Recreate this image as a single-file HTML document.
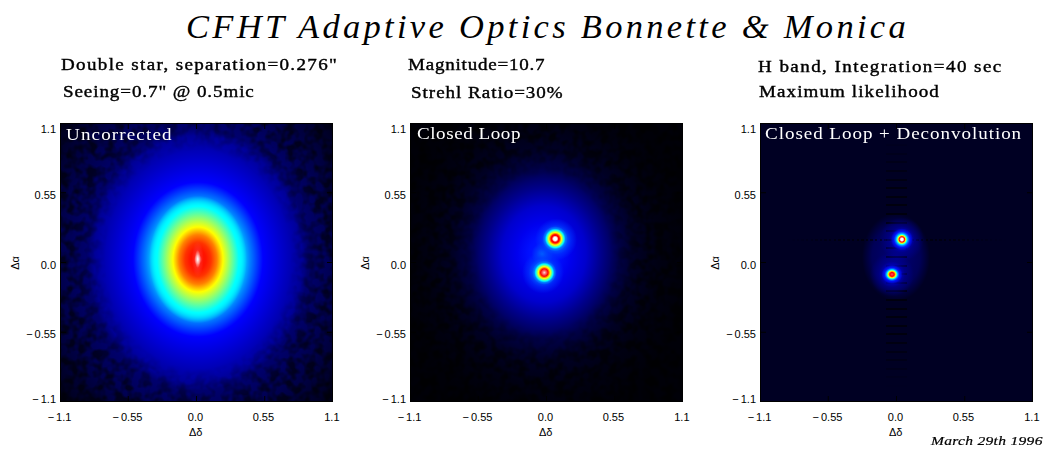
<!DOCTYPE html>
<html><head><meta charset="utf-8">
<style>
html,body{margin:0;padding:0;background:#fff;}
body{width:1050px;height:450px;position:relative;overflow:hidden;font-family:"Liberation Serif",serif;color:#000;}
.a{position:absolute;white-space:nowrap;line-height:1;}
#title{left:186px;top:8.5px;font-style:italic;font-size:34.5px;letter-spacing:3.3px;}
.sub{font-family:"Liberation Serif",serif;font-size:17px;transform:scaleX(1.12);transform-origin:0 0;-webkit-text-stroke:0.4px #000;}
.panel{position:absolute;top:123px;width:273px;height:279px;overflow:hidden;}
.bd{position:absolute;left:0;top:0;width:271px;height:277px;border:1px solid #000;}
.lbl{position:absolute;left:7px;top:3px;color:#fff;font-family:"Liberation Serif",serif;font-size:17px;white-space:nowrap;line-height:1;transform:scaleX(1.12);transform-origin:0 0;}
.tk{position:absolute;left:0;top:0;}
.art{position:absolute;}
.ay{position:absolute;font-family:"Liberation Sans",sans-serif;font-size:11px;line-height:11px;white-space:nowrap;text-align:right;}
.ax{position:absolute;width:100px;text-align:center;font-family:"Liberation Sans",sans-serif;font-size:11px;line-height:11px;white-space:nowrap;}
.ya{position:absolute;font-family:"Liberation Sans",sans-serif;font-size:11px;line-height:11px;white-space:nowrap;transform:translate(-50%,-50%) rotate(-90deg);}
#date{left:931px;top:433.5px;font-style:italic;font-size:13.5px;letter-spacing:0.26px;transform:scaleX(1.15);transform-origin:0 0;-webkit-text-stroke:0.2px #000;}
</style></head>
<body>
<div class="a" id="title">CFHT Adaptive Optics Bonnette &amp; Monica</div>

<div class="a sub" style="left:61px;top:55.9px;letter-spacing:1.207px;">Double star, separation=0.276"</div>
<div class="a sub" style="left:62.6px;top:82.8px;letter-spacing:0.811px;">Seeing=0.7" @ 0.5mic</div>
<div class="a sub" style="left:408px;top:55.6px;letter-spacing:0.692px;">Magnitude=10.7</div>
<div class="a sub" style="left:410.6px;top:83.5px;letter-spacing:0.867px;">Strehl Ratio=30%</div>
<div class="a sub" style="left:758px;top:57.7px;letter-spacing:1.28px;">H band, Integration=40 sec</div>
<div class="a sub" style="left:759px;top:83.3px;letter-spacing:0.976px;">Maximum likelihood</div>

<!-- panel 1 -->
<div class="panel" style="left:60px;background:
radial-gradient(ellipse 2px 6px at 137.7px 136px, #ffffff 0px,rgba(255,200,200,.85) 1.2px,rgba(255,90,90,.3) 3px,rgba(255,60,60,0) 6px),
radial-gradient(ellipse 100px 130px at 138px 136.5px,
 #ffffff 0px,#ff7070 1.5px,#ff1000 4px,#ff1400 8px,#ff3200 13px,#ff8000 19px,#ffff00 25px,#80ff80 33px,#00ffff 41px,rgba(0,200,255,0) 49px),
radial-gradient(ellipse 100px 119px at 138px 136.5px,
 #00ffff 0px,#00ffff 41px,#0080ff 52px,#001eff 62px,#0000ff 65px,#0000e6 74px,#0000c0 88px,#000096 104px,#00006e 110px,#00004b 140px,#00001e 175px,#00000f 220px);">
<svg class="art" width="273" height="279" style="left:0;top:0"><defs><filter id="n1" x="0" y="0" width="100%" height="100%"><feTurbulence type="fractalNoise" baseFrequency="0.11" numOctaves="2" seed="3"/><feColorMatrix type="matrix" values="0 0 0 0 0  0 0 0 0 0  0 0 0 0 0  0 0 0 -3.2 2.0"/><feComponentTransfer><feFuncA type="linear" slope="0.6"/></feComponentTransfer></filter><radialGradient id="g1" gradientUnits="userSpaceOnUse" cx="138" cy="136.5" r="140" gradientTransform="translate(138 136.5) scale(1 1.1785714285714286) translate(-138 -136.5)"><stop offset="0.66" stop-color="#fff" stop-opacity="0"/><stop offset="0.92" stop-color="#fff" stop-opacity="1"/></radialGradient><mask id="m1"><rect width="273" height="279" fill="url(#g1)"/></mask></defs><rect width="273" height="279" filter="url(#n1)" mask="url(#m1)"/></svg>
<div class="bd"></div><svg class="tk" width="273" height="279"><path d="M68.25 0V6M68.25 279V273M136.5 0V6M136.5 279V273M204.75 0V6M204.75 279V273M0 69.75H6M273 69.75H267M0 139.5H6M273 139.5H267M0 209.25H6M273 209.25H267" stroke="#000" stroke-width="1" fill="none"/></svg>
<div class="lbl" style="left:6.3px;top:3px;letter-spacing:1.02px;">Uncorrected</div>
</div>

<!-- panel 2 -->
<div class="panel" style="left:410px;background:
radial-gradient(circle at 145.2px 115.8px, #fff 0px,#fff 1.6px,#ffa0a0 2.4px,#ff0000 3.3px,#ff0000 4.2px,#ff8000 5.2px,#ffff00 6.3px,#80ff80 7.6px,#00ffff 8.8px,rgba(0,128,255,.9) 10.3px,rgba(0,128,255,0) 12.5px),
radial-gradient(circle at 134.3px 149.6px, #ffdcdc 0px,#ff7878 1.5px,#ff0000 3.7px,#ff8000 4.8px,#ffff00 5.9px,#80ff80 7.2px,#00ffff 8.5px,rgba(0,128,255,.9) 10px,rgba(0,128,255,0) 12px),
radial-gradient(circle at 146px 116.5px, rgba(0,100,255,.95) 0px,rgba(0,90,255,.8) 11px,rgba(0,60,255,.55) 15px,rgba(0,30,255,0) 21px),
radial-gradient(circle at 133px 149.5px, rgba(0,100,255,.95) 0px,rgba(0,90,255,.8) 10.5px,rgba(0,60,255,.55) 14.5px,rgba(0,30,255,0) 21px),
radial-gradient(circle at 132.4px 131px, rgba(0,120,255,.8) 0px,rgba(0,80,255,.5) 6px,rgba(0,20,255,0) 11px),
radial-gradient(ellipse 100px 115px at 134px 131px,
 #001eff 0px,#000fff 15px,#0000ee 27px,#0000cd 42px,#00008c 57px,#000046 75px,#000024 92px,#000012 115px,#000008 145px);">
<svg class="art" width="273" height="279" style="left:0;top:0"><defs><filter id="n2" x="0" y="0" width="100%" height="100%"><feTurbulence type="fractalNoise" baseFrequency="0.11" numOctaves="2" seed="7"/><feColorMatrix type="matrix" values="0 0 0 0 0  0 0 0 0 0  0 0 0 0 0  0 0 0 -3.2 2.0"/><feComponentTransfer><feFuncA type="linear" slope="0.65"/></feComponentTransfer></filter><radialGradient id="g2" gradientUnits="userSpaceOnUse" cx="134" cy="131" r="120" gradientTransform="translate(134 131) scale(1 1.15) translate(-134 -131)"><stop offset="0.55" stop-color="#fff" stop-opacity="0"/><stop offset="0.85" stop-color="#fff" stop-opacity="1"/></radialGradient><mask id="m2"><rect width="273" height="279" fill="url(#g2)"/></mask></defs><rect width="273" height="279" filter="url(#n2)" mask="url(#m2)"/></svg>
<div class="bd"></div><svg class="tk" width="273" height="279"><path d="M68.25 0V6M68.25 279V273M136.5 0V6M136.5 279V273M204.75 0V6M204.75 279V273M0 69.75H6M273 69.75H267M0 139.5H6M273 139.5H267M0 209.25H6M273 209.25H267" stroke="#000" stroke-width="1" fill="none"/></svg>
<div class="lbl" style="left:7px;top:2px;letter-spacing:0.5px;">Closed Loop</div>
</div>

<!-- panel 3 -->
<div class="panel" style="left:760px;background:
radial-gradient(ellipse 31px 40px at 136px 134px, rgba(0,0,125,.95) 0px,rgba(0,0,110,.7) 24px,rgba(0,0,35,0) 34px),
#000023;">
<div class="art" style="left:126px;top:0px;width:21px;height:279px;background:repeating-linear-gradient(180deg,rgba(0,0,0,0) 0px,rgba(0,0,0,0) 4px,rgba(0,0,0,.6) 4px,rgba(0,0,0,.6) 6px,rgba(0,0,0,0) 6px,rgba(0,0,0,0) 8.6px);filter:blur(0.6px);-webkit-mask-image:linear-gradient(180deg,transparent 5%,#000 25%,#000 75%,transparent 95%);"></div>
<div class="art" style="left:0px;top:115.5px;width:273px;height:2px;background:repeating-linear-gradient(90deg,rgba(0,0,0,.5) 0px,rgba(0,0,0,.5) 2.5px,rgba(0,0,0,0) 2.5px,rgba(0,0,0,0) 4.6px);-webkit-mask-image:linear-gradient(90deg,transparent 10%,#000 30%,#000 70%,transparent 90%);"></div>
<div class="art" style="left:0;top:0;width:273px;height:279px;background:
radial-gradient(circle at 141.9px 116.4px, #fff 0px,#fff 1.2px,#ff0000 2.7px,#ffff00 3.8px,#00ffff 5px,#0080ff 6.2px,rgba(0,20,255,.9) 8px,rgba(0,0,255,0) 11px),
radial-gradient(ellipse 8px 7.2px at 132px 151.4px, #ff5050 0px,#ff0000 2.2px,#ffff00 3.8px,#00ffff 5px,#0080ff 6px,rgba(0,20,255,.9) 7.5px,rgba(0,0,255,0) 10.5px),
radial-gradient(circle at 141.9px 116.4px, rgba(0,0,235,.9) 0px,rgba(0,0,220,.75) 8px,rgba(0,0,170,.45) 13px,rgba(0,0,120,0) 22px),
radial-gradient(circle at 132px 151.4px, rgba(0,0,235,.9) 0px,rgba(0,0,220,.75) 8px,rgba(0,0,170,.45) 13px,rgba(0,0,120,0) 22px);"></div>
<div class="bd"></div><svg class="tk" width="273" height="279"><path d="M68.25 0V6M68.25 279V273M136.5 0V6M136.5 279V273M204.75 0V6M204.75 279V273M0 69.75H6M273 69.75H267M0 139.5H6M273 139.5H267M0 209.25H6M273 209.25H267" stroke="#000" stroke-width="1" fill="none"/></svg>
<div class="lbl" style="left:5px;top:2px;letter-spacing:0.854px;">Closed Loop + Deconvolution</div>
</div>

<div class="ay" style="right:994px;top:123.5px;">1.1</div>
<div class="ay" style="right:994px;top:189.5px;">0.55</div>
<div class="ay" style="right:994px;top:259.5px;">0.0</div>
<div class="ay" style="right:994px;top:328.5px;"><span style="letter-spacing:2px">−</span>0.55</div>
<div class="ay" style="right:994px;top:393.5px;"><span style="letter-spacing:2px">−</span>1.1</div>
<div class="ax" style="left:9.5px;top:411.5px;"><span style="letter-spacing:2px">−</span>1.1</div>
<div class="ax" style="left:77.5px;top:411.5px;"><span style="letter-spacing:2px">−</span>0.55</div>
<div class="ax" style="left:145.5px;top:411.5px;">0.0</div>
<div class="ax" style="left:213.39999999999998px;top:411.5px;">0.55</div>
<div class="ax" style="left:281.9px;top:411.5px;">1.1</div>
<div class="ax" style="left:145.7px;top:427.0px;">&Delta;&delta;</div>
<div class="ya" style="left:14.6px;top:263.4px;">&Delta;&alpha;</div>
<div class="ay" style="right:644px;top:123.5px;">1.1</div>
<div class="ay" style="right:644px;top:189.5px;">0.55</div>
<div class="ay" style="right:644px;top:259.5px;">0.0</div>
<div class="ay" style="right:644px;top:328.5px;"><span style="letter-spacing:2px">−</span>0.55</div>
<div class="ay" style="right:644px;top:393.5px;"><span style="letter-spacing:2px">−</span>1.1</div>
<div class="ax" style="left:359.5px;top:411.5px;"><span style="letter-spacing:2px">−</span>1.1</div>
<div class="ax" style="left:427.5px;top:411.5px;"><span style="letter-spacing:2px">−</span>0.55</div>
<div class="ax" style="left:495.5px;top:411.5px;">0.0</div>
<div class="ax" style="left:563.4px;top:411.5px;">0.55</div>
<div class="ax" style="left:631.9px;top:411.5px;">1.1</div>
<div class="ax" style="left:495.70000000000005px;top:427.0px;">&Delta;&delta;</div>
<div class="ya" style="left:364.6px;top:263.4px;">&Delta;&alpha;</div>
<div class="ay" style="right:294px;top:123.5px;">1.1</div>
<div class="ay" style="right:294px;top:189.5px;">0.55</div>
<div class="ay" style="right:294px;top:259.5px;">0.0</div>
<div class="ay" style="right:294px;top:328.5px;"><span style="letter-spacing:2px">−</span>0.55</div>
<div class="ay" style="right:294px;top:393.5px;"><span style="letter-spacing:2px">−</span>1.1</div>
<div class="ax" style="left:709.5px;top:411.5px;"><span style="letter-spacing:2px">−</span>1.1</div>
<div class="ax" style="left:777.5px;top:411.5px;"><span style="letter-spacing:2px">−</span>0.55</div>
<div class="ax" style="left:845.5px;top:411.5px;">0.0</div>
<div class="ax" style="left:913.4px;top:411.5px;">0.55</div>
<div class="ax" style="left:981.9000000000001px;top:411.5px;">1.1</div>
<div class="ax" style="left:845.7px;top:427.0px;">&Delta;&delta;</div>
<div class="ya" style="left:714.6px;top:263.4px;">&Delta;&alpha;</div>
<div class="a" id="date">March 29th 1996</div>
</body></html>
